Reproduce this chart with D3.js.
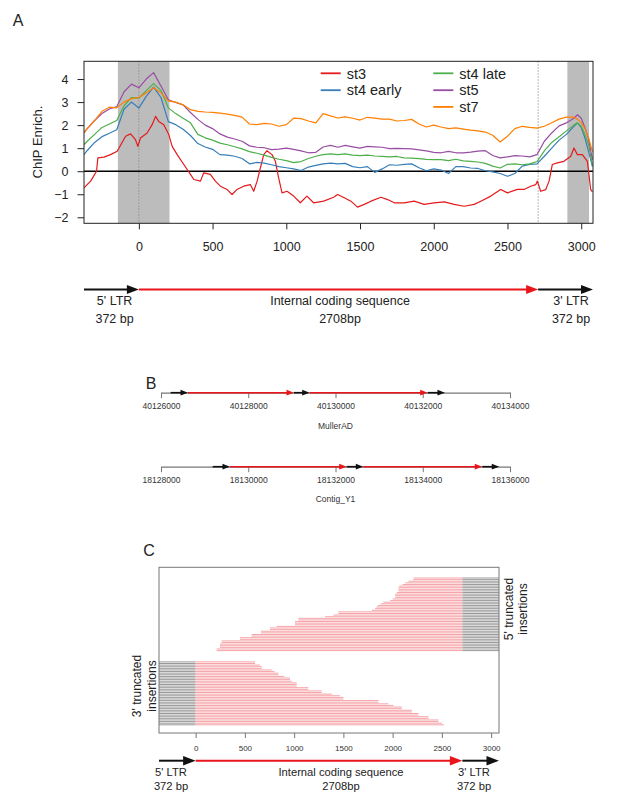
<!DOCTYPE html>
<html><head><meta charset="utf-8">
<script src="https://cdn.jsdelivr.net/npm/d3@7"></script>
<style>body{margin:0;background:#fff;} svg{display:block;font-family:"Liberation Sans",Arial,Helvetica,sans-serif;}</style>
</head><body><svg id="c" width="617" height="809"></svg>
<script>
// ---------- DATA ----------
const seriesNames = ["st3","st4 early","st4 late","st5","st7"];
const seriesColors = ["#e41a1c","#377eb8","#4daf4a","#984ea3","#ff7f00"];
const xPos = [-372,-350,-300,-250,-200,-150,-100,-50,0,50,100,150,200,250,300,350,400,450,500,550,600,650,700,750,800,850,900,950,1000,1050,1100,1150,1200,1250,1300,1350,1400,1450,1500,1550,1600,1650,1700,1750,1800,1850,1900,1950,2000,2050,2100,2150,2200,2250,2300,2350,2400,2450,2500,2550,2600,2650,2700,2750,2800,2850,2900,2950,2975,3000,3025,3050,3076];
const st3X = [-372,-327,-287,-278,-237,-192,-147,-124,-90,-56,-23,-7,11,56,90,113,135,169,203,226,260,305,350,373,418,440,485,519,553,598,632,666,711,756,779,802,824,847,869,903,926,948,971,1005,1050,1095,1140,1185,1253,1321,1348,1393,1438,1483,1529,1574,1642,1687,1732,1800,1867,1935,2003,2071,2138,2206,2274,2319,2387,2454,2500,2567,2612,2658,2692,2703,2725,2759,2782,2804,2838,2883,2929,2951,2974,3008,3042,3064,3076];
const st3 = [-0.72,-0.43,0.0,0.58,0.61,0.72,0.87,1.13,1.52,1.62,1.37,1.08,1.44,1.66,2.02,2.38,2.16,2.02,1.59,1.08,0.72,0.29,-0.14,-0.36,-0.43,-0.07,-0.14,-0.43,-0.65,-0.79,-1.01,-0.79,-0.65,-0.58,-0.87,-0.43,0.14,0.72,0.89,0.72,0.43,-0.29,-0.94,-0.87,-1.08,-1.37,-1.08,-1.37,-1.30,-1.13,-1.01,-1.15,-1.30,-1.56,-1.44,-1.30,-1.13,-1.23,-1.37,-1.37,-1.30,-1.44,-1.37,-1.33,-1.44,-1.52,-1.44,-1.30,-1.08,-0.79,-0.94,-0.79,-0.79,-0.65,-0.58,-0.43,-0.87,-0.80,-0.43,0.29,0.36,0.43,0.65,1.01,0.72,0.72,0.43,-0.79,-0.9];
const st4early = [0.72,0.9,1.25,1.5,1.65,1.8,2.7,3.0,2.74,3.25,3.65,3.2,2.15,2.02,1.82,1.55,1.2,1.05,0.95,0.72,0.7,0.65,0.55,0.32,0.38,0.35,0.28,0.2,0.15,0.1,0.03,0.18,0.25,0.32,0.35,0.32,0.34,0.2,0.15,0.2,-0.05,0.1,0.28,0.26,0.3,0.32,0.15,0.02,0.1,0.05,-0.1,0.2,0.2,0.14,0.12,0.02,-0.03,-0.1,-0.22,-0.1,0.22,0.3,0.32,0.65,1.0,1.35,1.6,1.95,2.1,1.9,1.45,0.85,0.2];
const st4late = [1.15,1.3,1.6,1.9,2.05,2.2,2.85,3.2,3.17,3.5,3.8,3.5,2.75,2.5,2.3,2.1,1.6,1.45,1.35,1.22,1.15,1.06,0.97,0.85,0.78,0.7,0.6,0.52,0.46,0.37,0.42,0.55,0.65,0.72,0.75,0.72,0.75,0.7,0.68,0.7,0.66,0.64,0.62,0.64,0.58,0.57,0.55,0.51,0.5,0.5,0.46,0.52,0.45,0.43,0.4,0.34,0.22,0.14,0.3,0.32,0.28,0.32,0.42,0.88,1.25,1.5,1.75,2.0,2.1,1.95,1.6,1.15,0.25];
const st5 = [1.68,1.85,2.2,2.5,2.7,2.8,3.45,3.78,3.62,4.0,4.28,3.7,3.1,2.98,2.88,2.55,2.25,2.0,1.85,1.62,1.48,1.4,1.3,1.1,1.04,1.02,0.94,0.96,1.0,0.95,0.88,0.8,0.82,1.05,1.12,1.04,1.12,1.06,1.0,1.08,1.06,1.04,0.98,0.99,0.98,0.97,0.93,0.88,0.82,0.8,0.86,0.8,0.8,0.83,0.87,0.89,0.68,0.58,0.62,0.68,0.66,0.62,0.72,1.3,1.66,1.97,2.1,2.3,2.45,2.3,1.9,1.4,0.5];
const st7 = [1.66,1.85,2.2,2.6,2.78,2.75,3.0,3.15,3.2,3.4,3.62,3.4,3.05,3.0,2.88,2.67,2.6,2.57,2.55,2.52,2.48,2.42,2.35,2.05,2.02,2.08,2.05,1.95,2.02,2.3,2.28,2.18,2.1,2.5,2.4,2.31,2.36,2.3,2.22,2.34,2.3,2.26,2.26,2.18,2.2,2.25,2.05,1.92,2.0,1.92,1.85,1.88,1.83,1.78,1.75,1.7,1.56,1.27,1.52,1.85,1.95,1.9,1.87,1.95,2.1,2.26,2.35,2.35,2.25,2.12,1.85,1.45,0.85];
const seriesX = [st3X, xPos, xPos, xPos, xPos];
const seriesValues = [st3, st4early, st4late, st5, st7];
const shadeRanges = [[-142, 208], [2906, 3053]];
const markLines = [0, 2708];
const aXTicks = [0,500,1000,1500,2000,2500,3000];
const aYTicks = [-2,-1,0,1,2,3,4];

const structBounds = [[-372, 0], [0, 2708], [2708, 3080]];
const structNames = ["5' LTR", "Internal coding sequence", "3' LTR"];
const structLens = ["372 bp", "2708bp", "372 bp"];

const bTracks = ["MullerAD", "Contig_Y1"];
const bTicksMuller = [40126000,40128000,40130000,40132000,40134000];
const bTicksContig = [18128000,18130000,18132000,18134000,18136000];
const bSegsMuller = [[40126222,40126619,"LTR"],[40126619,40129048,"int"],[40129048,40129408,"LTR"],[40129408,40132113,"int"],[40132113,40132509,"LTR"]];
const bSegsContig = [[18129185,18129581,"LTR"],[18129581,18132256,"int"],[18132256,18132637,"LTR"],[18132637,18135364,"int"],[18135364,18135754,"LTR"]];

const cXTicks = [0,500,1000,1500,2000,2500,3000];
const trunc5Starts = [2211,2211,2161,2130,2100,2066,2059,2059,2059,2043,2026,2026,2026,2000,1975,1907,1880,1850,1835,1822,1789,1449,1449,1399,1314,1043,1043,1009,1009,1009,823,755,755,664,664,569,569,450,450,264,264,247,247,247,213,213];
const trunc3Ends = [603,603,653,671,671,772,800,840,840,900,958,958,975,1026,1026,1026,1144,1144,1280,1280,1382,1466,1500,1500,1856,1856,1957,2008,2093,2093,2195,2195,2262,2262,2364,2364,2465,2465,2500,2520];

// ---------- DRAW ----------
const svg = d3.select("#c");
const RED = "#e8151b";
const TXT = "#222";
const FONT = "Liberation Sans, Arial, sans-serif";

function arrow(g, x1, x2, y, color, hl, hw, lw) {
  g.append("line").attr("x1", x1).attr("x2", x2 - hl * 0.6).attr("y1", y).attr("y2", y)
    .attr("stroke", color).attr("stroke-width", lw);
  g.append("path").attr("d", `M${x2},${y}L${x2 - hl},${y - hw}L${x2 - hl},${y + hw}Z`).attr("fill", color);
}

// Panel letters
[["A", 18, 26], ["B", 151, 389], ["C", 149, 556]].forEach(([t, x, y]) =>
  svg.append("text").attr("x", x).attr("y", y).attr("text-anchor", "middle").attr("font-size", 16).attr("fill", TXT).text(t));

// ===== Panel A =====
const A = {l: 84, r: 593, t: 61.3, b: 223.3};
const xA = d3.scaleLinear().domain([-372, 3080]).range([A.l, A.r]);
const yA = d3.scaleLinear().domain([-2.26, 4.77]).range([A.b, A.t]);
const gA = svg.append("g");
svg.append("defs").append("clipPath").attr("id", "clipA").append("rect")
  .attr("x", A.l).attr("y", A.t).attr("width", A.r - A.l).attr("height", A.b - A.t);

gA.selectAll("rect.shade").data(shadeRanges).join("rect").attr("class", "shade")
  .attr("x", d => xA(d[0])).attr("width", d => xA(d[1]) - xA(d[0]))
  .attr("y", A.t).attr("height", A.b - A.t).attr("fill", "#bcbcbc");
gA.selectAll("line.mark").data(markLines).join("line").attr("class", "mark")
  .attr("x1", d => xA(d)).attr("x2", d => xA(d)).attr("y1", A.t).attr("y2", A.b)
  .attr("stroke", "#888").attr("stroke-width", 0.8).attr("stroke-dasharray", "1.5,1.5");
gA.append("line").attr("x1", A.l).attr("x2", A.r).attr("y1", yA(0)).attr("y2", yA(0))
  .attr("stroke", "#000").attr("stroke-width", 1.5);

const gLines = gA.append("g").attr("clip-path", "url(#clipA)");
seriesValues.forEach((vals, k) => {
  const xs = seriesX[k];
  const line = d3.line().x((d, i) => xA(xs[i])).y(d => yA(d));
  gLines.append("path").attr("d", line(vals)).attr("fill", "none")
    .attr("stroke", seriesColors[k]).attr("stroke-width", 1.2).attr("stroke-linejoin", "round");
});
gA.append("rect").attr("x", A.l).attr("y", A.t).attr("width", A.r - A.l).attr("height", A.b - A.t)
  .attr("fill", "none").attr("stroke", "#222").attr("stroke-width", 1);

const axA = gA.append("g").attr("transform", `translate(0,${A.b})`)
  .call(d3.axisBottom(xA).tickValues(aXTicks).tickFormat(d3.format("d")).tickSize(6).tickSizeOuter(0).tickPadding(13));
axA.select(".domain").remove();
const ayA = gA.append("g").attr("transform", `translate(${A.l},0)`)
  .call(d3.axisLeft(yA).tickValues(aYTicks).tickFormat(d3.format("d")).tickSize(6.5).tickSizeOuter(0).tickPadding(9));
ayA.select(".domain").remove();
[axA, ayA].forEach(a => {
  a.selectAll("text").attr("font-size", 12.5).attr("fill", TXT).attr("font-family", FONT);
  a.selectAll("line").attr("stroke", "#222");
});
svg.append("text").attr("transform", `translate(37,142) rotate(-90)`).attr("text-anchor", "middle")
  .attr("dominant-baseline", "central").attr("font-size", 13).attr("fill", TXT).text("ChIP Enrich.");

// legend
const legPos = [[320.7, 73.3], [320.7, 90.2], [433.3, 73.3], [433.3, 90.2], [433.3, 106.9]];
seriesNames.forEach((n, i) => {
  const [lx, ly] = legPos[i];
  svg.append("line").attr("x1", lx).attr("x2", lx + 20).attr("y1", ly).attr("y2", ly)
    .attr("stroke", seriesColors[i]).attr("stroke-width", 1.8);
  svg.append("text").attr("x", lx + 26).attr("y", ly + 5.2).attr("font-size", 14.5).attr("fill", TXT).text(n);
});

// structure arrows A
const yArrA = 289.5;
const gSA = svg.append("g");
structBounds.forEach((b, i) => arrow(gSA, xA(b[0]), xA(b[1]), yArrA, i === 1 ? RED : "#111", 12, 4.6, 2));
const labelXA = [114.6, 340, 571];
structNames.forEach((n, i) => {
  gSA.append("text").attr("x", labelXA[i]).attr("y", 305).attr("text-anchor", "middle").attr("font-size", 12.5).attr("fill", TXT).text(n);
  gSA.append("text").attr("x", labelXA[i]).attr("y", 322.5).attr("text-anchor", "middle").attr("font-size", 12.5).attr("fill", TXT).text(structLens[i]);
});

// ===== Panel B =====
const bRows = [
  {name: bTracks[0], ticks: bTicksMuller, segs: bSegsMuller, y: 392.7, ly: 429},
  {name: bTracks[1], ticks: bTicksContig, segs: bSegsContig, y: 466.7, ly: 501.5}
];
bRows.forEach(r => {
  const xB = d3.scaleLinear().domain([r.ticks[0], r.ticks[r.ticks.length - 1]]).range([161, 510]);
  const g = svg.append("g");
  const ax = g.append("g").attr("transform", `translate(0,${r.y})`)
    .call(d3.axisBottom(xB).tickValues(r.ticks).tickSize(5.5).tickSizeOuter(0).tickPadding(5).tickFormat(d3.format("d")));
  ax.select(".domain").attr("stroke", "#777").attr("stroke-width", 1.3);
  ax.selectAll("line").attr("stroke", "#777");
  ax.selectAll("text").attr("font-size", 8.5).attr("fill", "#333").attr("font-family", FONT);
  r.segs.forEach(s => arrow(g, xB(s[0]), xB(s[1]), r.y, s[2] === "int" ? RED : "#111", 7.5, 2.9, 1.6));
  g.append("text").attr("x", 335.5).attr("y", r.ly).attr("text-anchor", "middle").attr("font-size", 8.5).attr("fill", "#333").text(r.name);
});

// ===== Panel C =====
const C = {l: 159, r: 499, t: 567.3, b: 733};
const xC = d3.scaleLinear().domain([-372, 3080]).range([C.l, C.r]);
const yC = d3.scaleLinear().domain([0, 91]).range([578, 724.8]);
const gC = svg.append("g");
const barH = 1.0;
trunc5Starts.forEach((s, i) => {
  gC.append("rect").attr("x", xC(s)).attr("width", xC(2708) - xC(s)).attr("y", yC(i) - barH / 2).attr("height", barH).attr("fill", "#f6a3a7");
  gC.append("rect").attr("x", xC(2708)).attr("width", xC(3080) - xC(2708)).attr("y", yC(i) - barH / 2).attr("height", barH).attr("fill", "#999");
});
trunc3Ends.forEach((e, i) => {
  const k = 52 + i;
  gC.append("rect").attr("x", xC(-372)).attr("width", xC(0) - xC(-372)).attr("y", yC(k) - barH / 2).attr("height", barH).attr("fill", "#999");
  gC.append("rect").attr("x", xC(0)).attr("width", xC(e) - xC(0)).attr("y", yC(k) - barH / 2).attr("height", barH).attr("fill", "#f6a3a7");
});
gC.append("rect").attr("x", C.l).attr("y", C.t).attr("width", C.r - C.l).attr("height", C.b - C.t)
  .attr("fill", "none").attr("stroke", "#777").attr("stroke-width", 1);
const axC = gC.append("g").attr("transform", `translate(0,${C.b})`)
  .call(d3.axisBottom(xC).tickValues(cXTicks).tickFormat(d3.format("d")).tickSize(5).tickSizeOuter(0).tickPadding(7));
axC.select(".domain").remove();
axC.selectAll("line").attr("stroke", "#777");
axC.selectAll("text").attr("font-size", 8).attr("fill", "#333").attr("font-family", FONT);

function sideLabel(x1, x2, y, l1, l2) {
  svg.append("text").attr("transform", `translate(${x1},${y}) rotate(-90)`).attr("text-anchor", "middle")
    .attr("dominant-baseline", "central").attr("font-size", 12).attr("fill", TXT).text(l1);
  svg.append("text").attr("transform", `translate(${x2},${y}) rotate(-90)`).attr("text-anchor", "middle")
    .attr("dominant-baseline", "central").attr("font-size", 12).attr("fill", TXT).text(l2);
}
sideLabel(508.5, 523, 609, "5' truncated", "insertions");
sideLabel(137, 151.5, 686, "3' truncated", "insertions");

// structure arrows C
const yArrC = 760.7;
const gSC = svg.append("g");
structBounds.forEach((b, i) => arrow(gSC, xC(b[0]), xC(b[1]), yArrC, i === 1 ? RED : "#111", 12.5, 4.7, 2));
const labelXC = [171, 341, 474];
structNames.forEach((n, i) => {
  gSC.append("text").attr("x", labelXC[i]).attr("y", 776).attr("text-anchor", "middle").attr("font-size", 11.2).attr("fill", TXT).text(n);
  gSC.append("text").attr("x", labelXC[i]).attr("y", 790).attr("text-anchor", "middle").attr("font-size", 11.2).attr("fill", TXT).text(structLens[i]);
});
</script></body></html>
